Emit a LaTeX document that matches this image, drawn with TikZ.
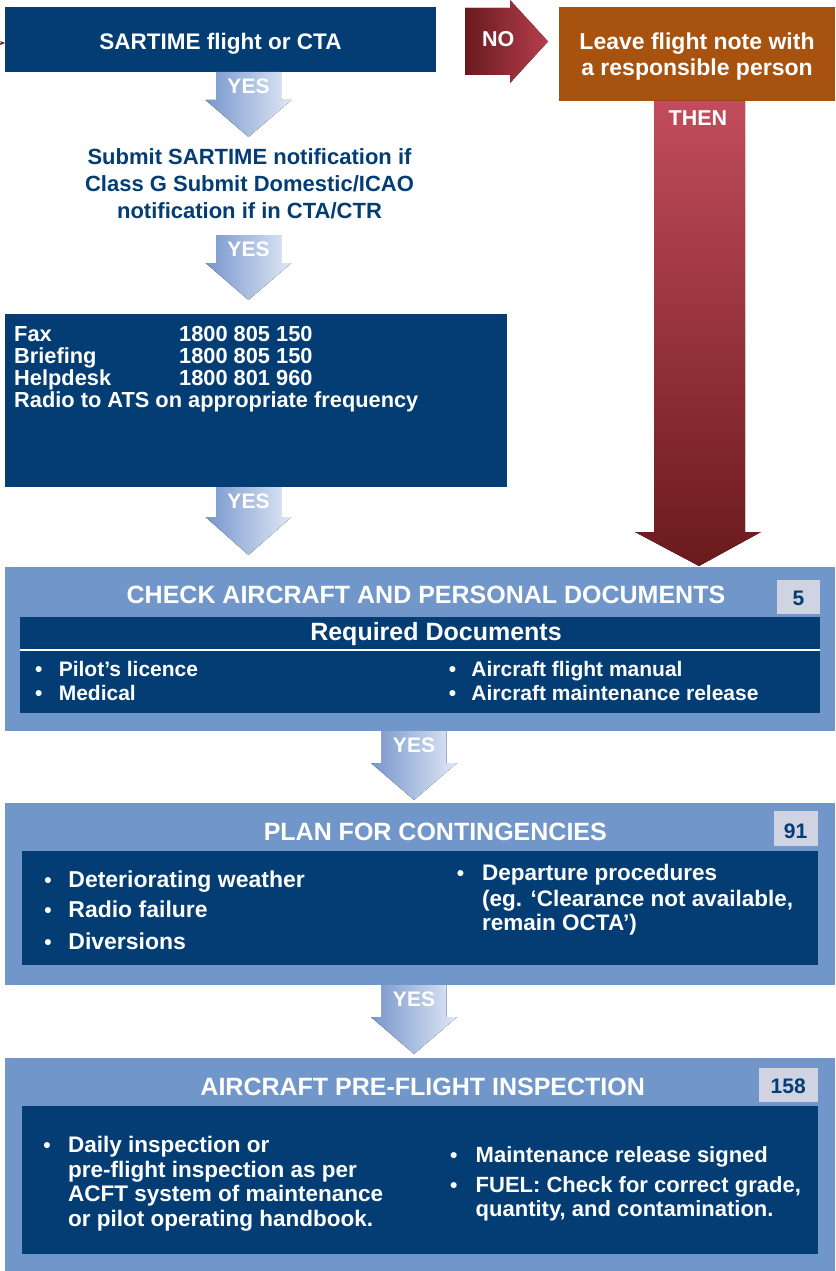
\documentclass[tikz,border=0pt]{standalone}
\usepackage{fontspec}
\setmainfont{Liberation Sans}
\usetikzlibrary{arrows.meta}

\definecolor{navy}{RGB}{3,61,115}
\definecolor{panel}{RGB}{113,150,201}
\definecolor{tag}{RGB}{207,211,226}
\definecolor{rust}{RGB}{168,82,16}
\definecolor{yesL}{RGB}{118,150,204}
\definecolor{yesR}{RGB}{224,232,246}
\definecolor{noL}{RGB}{104,26,30}
\definecolor{noR}{RGB}{182,62,78}
\definecolor{thenT}{RGB}{194,76,92}
\definecolor{thenB}{RGB}{106,26,28}

% bold text at a given size (1pt = 1 unit of the drawing)
\newcommand\fs[1]{\fontsize{#1}{#1}\selectfont\bfseries}
\newcommand\blt{{\fontsize{21}{21}\selectfont\bfseries •}}

\tikzset{
  navybox/.style={fill=navy, inner sep=0, outer sep=0},
  panelbox/.style={fill=panel, inner sep=0, outer sep=0},
  tagbox/.style={fill=tag, inner sep=0, outer sep=0},
  rustbox/.style={fill=rust, inner sep=0, outer sep=0},
  wt/.style={text=white, inner sep=0, anchor=base},
  wtl/.style={wt, anchor=base west},
  nt/.style={text=navy, inner sep=0, anchor=base},
  yesfill/.style={left color=yesL, right color=yesR},
}

% rectangle node from its top-left to bottom-right corner
\newcommand\blockbox[6]{%
  \node[#1, anchor=north west, minimum width={#5-#3}, minimum height={#6-#4}] (#2) at (#3,#4) {};}

% blue "YES" block arrow: name, centre x, top, head start, tip
\newcommand\yesarrow[5]{%
  \fill[yesfill] ({#2-32.5},#3) -- ({#2+32.5},#3) -- ({#2+32.5},#4) -- ({#2+43},#4)
    -- (#2,#5) -- ({#2-43},#4) -- ({#2-32.5},#4) -- cycle;
  \node[wt, font={\fs{21}}] (#1) at (#2,{#3+21.5}) {YES};}

\begin{document}
\begin{tikzpicture}[x=1pt, y=-1pt]
\useasboundingbox (0,0) rectangle (835,1271);

% ---------- top row ----------
\blockbox{navybox}{sartime}{5}{7}{436}{72}
\node[wt, font={\fs{22.5}}] (sartimeT) at (220.5,49.5) {SARTIME flight or CTA};

\coordinate (entry) at (0,43);
\draw[noL, line width=0.8, -{Stealth[length=5pt, width=4pt]}] (entry) -- (entry -| sartime.west);

% NO arrow
\fill[left color=noL, right color=noR] (465,8) -- (510,8) -- (510,0) -- (548,41.5)
  -- (510,83) -- (510,75) -- (465,75) -- cycle;
\node[wt, font={\fs{21.5}}] (noT) at (498.3,47) {NO};

\blockbox{rustbox}{note}{559}{7}{835}{101}
\node[wt, font={\fs{23}}] (noteA) at (697,50) {Leave flight note with};
\node[wt, font={\fs{23}}] (noteB) at (697,76) {a responsible person};

% THEN arrow
\fill[top color=thenT, bottom color=thenB] (654,101) -- (745,101) -- (745,532) -- (761,532)
  -- (699,566) -- (635,532) -- (654,532) -- cycle;
\node[wt, font={\fs{21.5}}] (thenT) at (698,125) {THEN};

% ---------- notification ----------
\yesarrow{yes1}{248.5}{72}{100}{137}
\node[nt, font={\fs{22}}] (sub1) at (249.5,164.5) {Submit SARTIME notification if};
\node[nt, font={\fs{22}}] (sub2) at (249.5,191.7) {Class G Submit Domestic/ICAO};
\node[nt, font={\fs{22}}] (sub3) at (249.5,218.5) {notification if in CTA/CTR};

\yesarrow{yes2}{248.5}{235}{263}{300}

% ---------- contacts ----------
\blockbox{navybox}{contact}{5}{314}{507}{487}
\node[wtl, font={\fs{21.8}}] (c1) at (14,341) {Fax};
\node[wtl, font={\fs{21.8}}] (c1n) at (179,341) {1800 805 150};
\node[wtl, font={\fs{21.8}}] (c2) at (14,363) {Briefing};
\node[wtl, font={\fs{21.8}}] (c2n) at (179,363) {1800 805 150};
\node[wtl, font={\fs{21.8}}] (c3) at (14,385) {Helpdesk};
\node[wtl, font={\fs{21.8}}] (c3n) at (179,385) {1800 801 960};
\node[wtl, font={\fs{21.8}}] (c4) at (14,407.3) {Radio to ATS on appropriate frequency};

\yesarrow{yes3}{248.5}{487}{517}{555}

% ---------- documents ----------
\blockbox{panelbox}{docs}{5}{567}{835}{731}
\node[wt, font={\fs{25}}] (docsT) at (426,603.3) {CHECK AIRCRAFT AND PERSONAL DOCUMENTS};
\blockbox{tagbox}{docsTag}{777}{580}{820}{614}
\node[nt, font={\fs{21}}] (docsN) at (798.5,605.5) {5};
\blockbox{navybox}{docsIn}{20}{617}{820}{712.5}
\node[wt, font={\fs{25}}] (reqT) at (436,640.7) {Required Documents};
\draw[white, line width=1.2] (docsIn.west |- 0,650) -- (docsIn.east |- 0,650);
\node[wt] (d1b) at (38.9,676.7) {\blt};
\node[wtl, font={\fs{21}}] (d1) at (58.6,676.7) {Pilot’s licence};
\node[wt] (d2b) at (38.9,700.5) {\blt};
\node[wtl, font={\fs{21}}] (d2) at (58.6,700.5) {Medical};
\node[wt] (d3b) at (452.6,676.7) {\blt};
\node[wtl, font={\fs{21}}] (d3) at (471.2,676.7) {Aircraft flight manual};
\node[wt] (d4b) at (452.6,700.5) {\blt};
\node[wtl, font={\fs{21}}] (d4) at (471.2,700.5) {Aircraft maintenance release};

\yesarrow{yes4}{414}{731}{763}{800}

% ---------- contingencies ----------
\blockbox{panelbox}{plan}{5}{803}{835}{984.5}
\node[wt, font={\fs{25}}] (planT) at (435.3,840.7) {PLAN FOR CONTINGENCIES};
\blockbox{tagbox}{planTag}{773.5}{811}{817.5}{846}
\node[nt, font={\fs{21}}] (planN) at (795.5,838) {91};
\blockbox{navybox}{planIn}{21.5}{851}{817.5}{964.5}
\node[wt] (p1b) at (48,887.3) {\blt};
\node[wtl, font={\fs{23}}] (p1) at (68.2,887.3) {Deteriorating weather};
\node[wt] (p2b) at (48,917.3) {\blt};
\node[wtl, font={\fs{23}}] (p2) at (68.2,917.3) {Radio failure};
\node[wt] (p3b) at (48,949) {\blt};
\node[wtl, font={\fs{23}}] (p3) at (68.2,949) {Diversions};
\node[wt] (p4b) at (460.6,880.7) {\blt};
\node[wtl, font={\fs{22.5}}] (p4) at (482,880.7) {Departure procedures};
\node[wtl, font={\fs{22.5}}] (p4a) at (482,906) {(eg. ‘Clearance not available,};
\node[wtl, font={\fs{22.5}}] (p4c) at (482,930) {remain OCTA’)};

\yesarrow{yes5}{414}{985}{1017}{1054}

% ---------- inspection ----------
\blockbox{panelbox}{insp}{5}{1057.5}{835}{1271}
\node[wt, font={\fs{25}}] (inspT) at (422.7,1095.7) {AIRCRAFT PRE-FLIGHT INSPECTION};
\blockbox{tagbox}{inspTag}{759}{1067.5}{817.5}{1101.7}
\node[nt, font={\fs{21}}] (inspN) at (788.2,1093) {158};
\blockbox{navybox}{inspIn}{21.5}{1106}{817.5}{1254.3}
\node[wt] (i1b) at (47,1152.7) {\blt};
\node[wtl, font={\fs{22.5}}] (i1) at (68,1152.7) {Daily inspection or};
\node[wtl, font={\fs{22.5}}] (i1a) at (68,1177) {pre-flight inspection as per};
\node[wtl, font={\fs{22.5}}] (i1c) at (68,1201.7) {ACFT system of maintenance};
\node[wtl, font={\fs{22.5}}] (i1d) at (68,1226.5) {or pilot operating handbook.};
\node[wt] (i2b) at (453.7,1162.3) {\blt};
\node[wtl, font={\fs{22}}] (i2) at (475.5,1162.3) {Maintenance release signed};
\node[wt] (i3b) at (453.7,1192.7) {\blt};
\node[wtl, font={\fs{22}}] (i3) at (475.5,1192.7) {FUEL: Check for correct grade,};
\node[wtl, font={\fs{22}}] (i3a) at (475.5,1216.7) {quantity, and contamination.};

\end{tikzpicture}
\end{document}
